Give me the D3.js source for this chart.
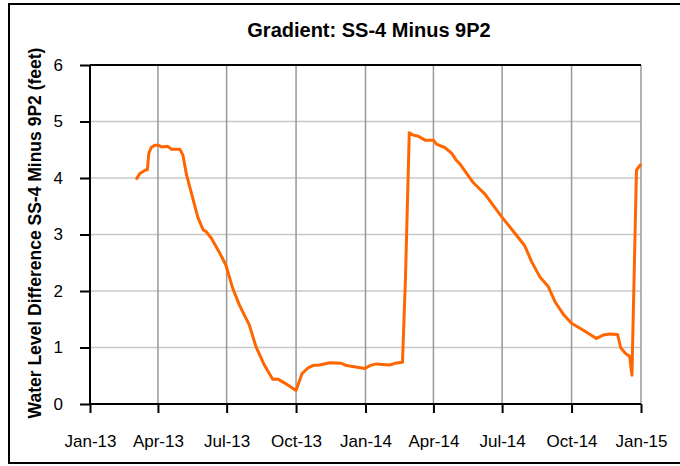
<!DOCTYPE html>
<html>
<head>
<meta charset="utf-8">
<script src="https://cdn.jsdelivr.net/npm/d3@7"></script>
<style>
  html, body { margin: 0; padding: 0; background: #fff; }
  svg { display: block; font-family: "Liberation Sans", Arial, sans-serif; }
</style>
</head>
<body>
<svg id="chart" width="680" height="466"></svg>
<script>
// ---- data ----
const title = "Gradient: SS-4 Minus 9P2";
const yTitle = "Water Level Difference SS-4 Minus 9P2 (feet)";
const dates = [
  "2013-03-04","2013-03-08","2013-03-14","2013-03-18","2013-03-20","2013-03-23","2013-03-28",
  "2013-04-01","2013-04-06","2013-04-14","2013-04-19","2013-04-30","2013-05-04","2013-05-09",
  "2013-05-24","2013-05-31","2013-06-04","2013-06-11","2013-06-22","2013-06-30","2013-07-09",
  "2013-07-18","2013-07-31","2013-08-09","2013-08-20","2013-08-31","2013-09-07","2013-09-16",
  "2013-10-01","2013-10-09","2013-10-17","2013-10-23","2013-11-01","2013-11-15","2013-11-30",
  "2013-12-07","2013-12-31","2014-01-07","2014-01-15","2014-02-02","2014-02-09","2014-02-19",
  "2014-02-23","2014-02-28","2014-03-05","2014-03-12","2014-03-21","2014-04-01","2014-04-05",
  "2014-04-16","2014-04-25","2014-05-01","2014-05-06","2014-05-23","2014-06-01","2014-06-08",
  "2014-06-19","2014-06-30","2014-07-15","2014-07-31","2014-08-09","2014-08-20","2014-08-31",
  "2014-09-09","2014-09-20","2014-10-01","2014-10-16","2014-11-03","2014-11-12","2014-11-21",
  "2014-12-01","2014-12-05","2014-12-11","2014-12-17","2014-12-20","2014-12-26","2014-12-31"
];
const values = [
  3.99,4.08,4.13,4.15,4.44,4.54,4.58,
  4.58,4.55,4.56,4.51,4.51,4.41,4.05,
  3.30,3.08,3.05,2.93,2.67,2.46,2.05,
  1.75,1.40,1.01,0.69,0.44,0.44,0.37,
  0.24,0.54,0.64,0.68,0.69,0.73,0.72,
  0.68,0.63,0.68,0.71,0.69,0.72,0.74,
  2.25,4.80,4.76,4.74,4.67,4.67,4.60,
  4.54,4.44,4.32,4.25,3.93,3.81,3.72,
  3.52,3.32,3.07,2.80,2.52,2.25,2.08,
  1.81,1.59,1.43,1.31,1.16,1.22,1.24,
  1.23,1.00,0.90,0.84,0.51,4.14,4.23
];
const xDomain = ["2013-01-01","2015-01-01"];
const yTicks = [0,1,2,3,4,5,6];

// ---- layout ----
const parse = d3.timeParse("%Y-%m-%d");
const data = dates.map((d,i) => ({date: parse(d), value: values[i]}));
const m = {left: 90, right: 641, top: 65, bottom: 404};

const svg = d3.select("#chart");
const x = d3.scaleTime().domain(xDomain.map(parse)).range([m.left, m.right]);
const y = d3.scaleLinear().domain([0, 6]).range([m.bottom, m.top]);
const xTickVals = d3.timeMonth.every(3).range(parse(xDomain[0]), d3.timeDay.offset(parse(xDomain[1]), 1));

// outer frame
svg.append("rect").attr("x", 9).attr("y", 4).attr("width", 690).attr("height", 459)
  .attr("fill", "none").attr("stroke", "#000").attr("stroke-width", 2);

// horizontal gridlines
svg.append("g").selectAll("line").data(yTicks.filter(t => t > 0 && t < 6)).join("line")
  .attr("x1", m.left).attr("x2", m.right)
  .attr("y1", d => y(d)).attr("y2", d => y(d))
  .attr("stroke", "#c8c8c8").attr("stroke-width", 1.5);

// vertical gridlines
svg.append("g").selectAll("line").data(xTickVals.slice(1)).join("line")
  .attr("x1", d => x(d)).attr("x2", d => x(d))
  .attr("y1", m.top).attr("y2", m.bottom)
  .attr("stroke", "#999").attr("stroke-width", 1.5);

// top border
svg.append("line").attr("x1", m.left).attr("x2", m.right).attr("y1", m.top).attr("y2", m.top)
  .attr("stroke", "#000").attr("stroke-width", 2);

// line
svg.append("path").datum(data)
  .attr("fill", "none").attr("stroke", "#FF6600").attr("stroke-width", 3)
  .attr("stroke-linejoin", "round").attr("stroke-linecap", "round")
  .attr("d", d3.line().x(d => x(d.date)).y(d => y(d.value)));

// axes
const yAxis = svg.append("g").attr("transform", `translate(${m.left},0)`)
  .call(d3.axisLeft(y).tickValues(yTicks).tickFormat(d3.format("d")).tickSize(10).tickPadding(17));
const xAxis = svg.append("g").attr("transform", `translate(0,${m.bottom})`)
  .call(d3.axisBottom(x).tickValues(xTickVals).tickFormat(d3.timeFormat("%b-%y")).tickSize(9).tickPadding(22));
[yAxis, xAxis].forEach(g => {
  g.select(".domain").attr("stroke", "#000").attr("stroke-width", 2);
  g.selectAll(".tick line").attr("stroke", "#000").attr("stroke-width", 2);
  g.selectAll(".tick text").attr("fill", "#000").style("font-size", "17px")
    .style("font-family", '"Liberation Sans", Arial, sans-serif');
});
xAxis.select(".domain").attr("d", `M${m.left},0H${m.right}`);
yAxis.select(".domain").attr("d", `M0,${m.bottom}V${m.top}`);

// title
svg.append("text").attr("x", 369).attr("y", 37).attr("text-anchor", "middle")
  .style("font-size", "20px").style("font-weight", "bold").text(title);

// y title
svg.append("text").attr("transform", `translate(41,233) rotate(-90)`).attr("text-anchor", "middle")
  .style("font-size", "17.5px").style("font-weight", "bold").text(yTitle);
</script>
</body>
</html>
